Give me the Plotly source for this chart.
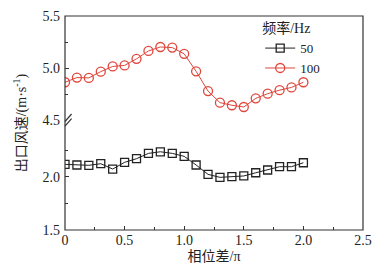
import plotly.graph_objects as go

phase = [0.0, 0.1, 0.2, 0.3, 0.4, 0.5, 0.6, 0.7, 0.8, 0.9, 1.0,
         1.1, 1.2, 1.3, 1.4, 1.5, 1.6, 1.7, 1.8, 1.9, 2.0]
speed_50 = [2.116, 2.110, 2.107, 2.122, 2.072, 2.135, 2.169, 2.219, 2.234, 2.219, 2.191,
            2.110, 2.022, 1.994, 2.000, 2.007, 2.037, 2.063, 2.094, 2.094, 2.131]
speed_100 = [4.863, 4.908, 4.905, 4.965, 5.015, 5.025, 5.088, 5.164, 5.202, 5.196, 5.136,
             4.968, 4.778, 4.667, 4.642, 4.625, 4.708, 4.753, 4.787, 4.813, 4.863]
x_ticks = [0, 0.5, 1.0, 1.5, 2.0, 2.5]
x_labels = ["0", "0.5", "1.0", "1.5", "2.0", "2.5"]
y_low_ticks = [1.5, 2.0]
y_high_ticks = [4.5, 5.0, 5.5]

FONT = "Liberation Serif, Times New Roman, Noto Sans CJK SC, serif"
RED = "#e0463c"
BLACK = "#222222"

fig = go.Figure()
fig.add_trace(go.Scatter(
    x=phase, y=speed_50, name="50", mode="lines+markers", yaxis="y",
    line=dict(color=BLACK, width=1),
    marker=dict(symbol="square-open", size=8, color=BLACK, line=dict(width=1.3)),
))
fig.add_trace(go.Scatter(
    x=phase, y=speed_100, name="100", mode="lines+markers", yaxis="y2",
    line=dict(color=RED, width=1),
    marker=dict(symbol="circle-open", size=9, color=RED, line=dict(width=1.3)),
))

axis_common = dict(
    ticks="inside", ticklen=4, tickwidth=1, tickcolor="#333",
    showgrid=False, zeroline=False, showline=False, automargin=False,
    tickfont=dict(family=FONT, size=14, color="#222"),
)

# page body has an 8px margin, so the figure is sized to fill the rest of the window
fig.update_layout(
    width=372, height=269,
    margin=dict(l=57, r=17, t=8, b=47, autoexpand=False),
    paper_bgcolor="white", plot_bgcolor="white",
    font=dict(family=FONT, size=14, color="#222"),
    xaxis=dict(
        range=[0, 2.5], tickvals=x_ticks, ticktext=x_labels,
        minor=dict(ticks="inside", dtick=0.25, tick0=0, ticklen=3, tickcolor="#333"),
        title=dict(text="相位差/π", font=dict(family=FONT, size=14), standoff=4),
        **axis_common,
    ),
    yaxis=dict(
        domain=[0, 0.498], range=[1.5, 2.5], tickvals=y_low_ticks,
        ticktext=["1.5", "2.0"], ticklabelstandoff=4,
        minor=dict(ticks="inside", tickvals=[1.75, 2.25], ticklen=3, tickcolor="#333"),
        **axis_common,
    ),
    yaxis2=dict(
        domain=[0.514, 1], range=[4.5, 5.5], tickvals=y_high_ticks,
        ticktext=["4.5", "5.0", "5.5"], anchor="x", ticklabelstandoff=4,
        minor=dict(ticks="inside", tickvals=[4.75, 5.25], ticklen=3, tickcolor="#333"),
        **axis_common,
    ),
    legend=dict(
        x=0.655, y=1.005, xanchor="left", yanchor="top",
        bgcolor="rgba(0,0,0,0)",
        title=dict(text="频率/Hz", font=dict(family=FONT, size=14)),
        font=dict(family=FONT, size=13),
        tracegroupgap=0, itemwidth=30,
    ),
    showlegend=True,
)

# frame around plot area
fig.add_shape(type="rect", xref="paper", yref="paper", x0=0, y0=0, x1=1, y1=1,
              line=dict(color="#333", width=1.2), fillcolor="rgba(0,0,0,0)", layer="above")
# axis break marks
for dy in (0.0, 0.022):
    fig.add_shape(type="line", xref="paper", yref="paper",
                  x0=0.0, y0=0.485 + dy, x1=0.022, y1=0.52 + dy,
                  line=dict(color="#333", width=1.2))

fig.add_annotation(
    text="出口风速/(m·s<sup>-1</sup>)", textangle=-90,
    xref="paper", yref="paper", x=-0.15, y=0.5, xanchor="center", yanchor="middle",
    showarrow=False, font=dict(family=FONT, size=14, color="#222"),
)

fig.write_html("out.html")
